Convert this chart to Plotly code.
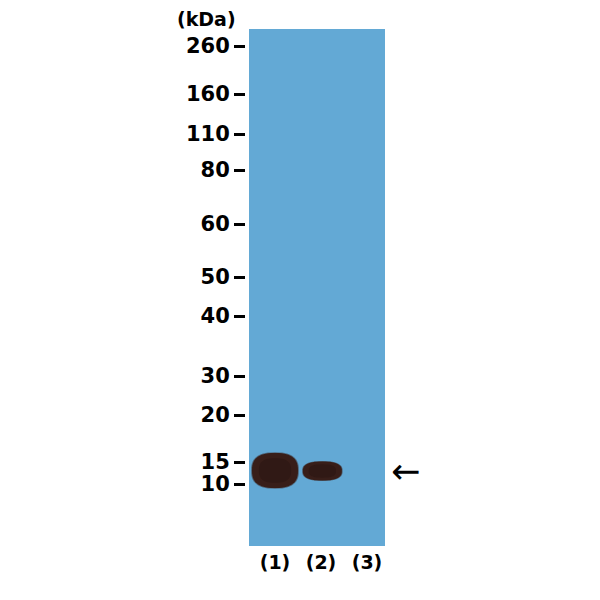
import numpy as np
import plotly.graph_objects as go

# molecular weight ladder (kDa) and where each marker ran on the membrane
marker_kda = ["260", "160", "110", "80", "60", "50", "40", "30", "20", "15", "10"]
marker_pos = [17, 65, 105, 141, 195, 248, 287, 347, 386, 433, 455]

lanes = ["(1)", "(2)", "(3)"]
lane_x = [1, 2, 3]

# detected bands: lane, migration centre, half width (lane units), half height
band_lane = [1.0, 2.03]
band_pos = [441.5, 442]
band_halfwidth = [0.5, 0.424]
band_halfheight = [17.5, 9.5]

target_pos = 442  # arrow on the right


def blob_path(cx, cy, hw, hh, p=2.6, n=60):
    # rounded-rectangle-ish outline (superellipse) around a band centre
    t = np.linspace(0, 2 * np.pi, n, endpoint=False)
    c, s = np.cos(t), np.sin(t)
    xs = cx + hw * np.sign(c) * np.abs(c) ** (2 / p)
    ys = cy + hh * np.sign(s) * np.abs(s) ** (2 / p)
    return "M " + " L ".join(f"{a:.4f},{b:.3f}" for a, b in zip(xs, ys)) + " Z"


fig = go.Figure()

# invisible trace so the axes exist
fig.add_trace(go.Scatter(x=lane_x, y=[0, 0, 0], mode="markers",
                         marker=dict(opacity=0), showlegend=False, hoverinfo="skip"))

layers = [(1.04, "rgba(60,38,34,0.5)"), (1.0, "rgb(56,30,25)"), (0.7, "rgb(48,25,21)")]
for lx, py, hw, hh in zip(band_lane, band_pos, band_halfwidth, band_halfheight):
    for k, col in layers:
        fig.add_shape(type="path", xref="x", yref="y",
                      path=blob_path(lx, py, hw * k, hh * k),
                      fillcolor=col, line=dict(width=0), layer="above")

fig.add_annotation(text="(kDa)", xref="paper", yref="paper", x=-0.316, y=1.019,
                   xanchor="center", yanchor="middle", showarrow=False,
                   font=dict(family="DejaVu Sans", size=19, color="black", weight="bold"))

fig.add_annotation(text="\u2190", xref="paper", yref="y", x=1.027, y=target_pos,
                   xanchor="left", yanchor="middle", showarrow=False,
                   font=dict(family="DejaVu Sans", size=35, color="black"))

fig.update_layout(
    width=600, height=600,
    margin=dict(l=241, r=223, t=21, b=62),
    paper_bgcolor="white",
    plot_bgcolor="#63a9d5",
    showlegend=False,
    xaxis=dict(range=[0.4348, 3.3913], tickvals=lane_x, ticktext=lanes,
               showgrid=False, zeroline=False, showline=False, ticks="",
               ticklabelstandoff=3,
               tickfont=dict(family="DejaVu Sans", size=19, color="black", weight="bold"),
               fixedrange=True),
    yaxis=dict(range=[517, 0], tickvals=marker_pos, ticktext=marker_kda,
               anchor="free", position=0, shift=-4,
               showgrid=False, zeroline=False, showline=False,
               ticks="outside", ticklen=11, tickwidth=3, tickcolor="black",
               tickfont=dict(family="DejaVu Sans", size=21, color="black", weight="bold"),
               fixedrange=True),
)

fig.write_html("out.html")
